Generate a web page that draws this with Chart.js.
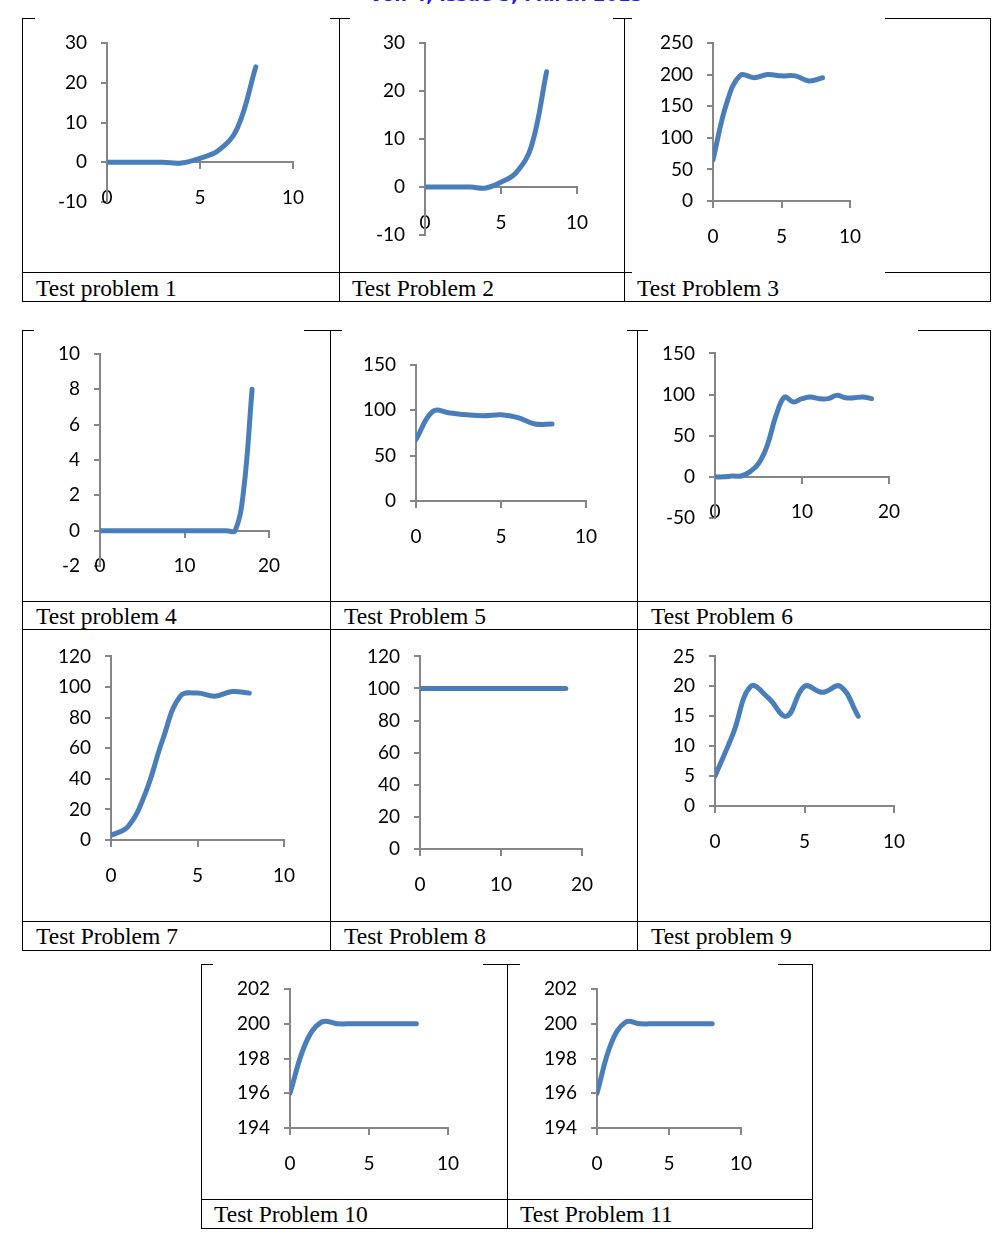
<!DOCTYPE html>
<html>
<head>
<meta charset="utf-8">
<script src="https://cdn.jsdelivr.net/npm/chart.js@4/dist/chart.umd.min.js"></script>
<style>
  body { margin: 0; background: #fff; }
  #page { position: relative; width: 1000px; height: 1246px; overflow: hidden; background: #fff; }
  .ln { position: absolute; background: #000; }
  .cap { position: absolute; font-family: "Liberation Serif", "Times New Roman", serif; font-size: 23.5px; line-height: 1; color: #000; white-space: nowrap; }
  canvas { position: absolute; background: #fff; }
  #hdr { position: absolute; top: -15px; left: 0; width: 1012px; text-align: center; font-family: "DejaVu Sans", sans-serif; font-weight: bold; font-size: 18px; line-height: 20px; color: #1a1aff; }
</style>
</head>
<body>
<div id="page">
  <div id="hdr">Vol. 4, Issue 3, March 2015</div>
</div>
<script>
// x positions of the samples
const xTo8 = [0, 1, 2, 3, 4, 5, 6, 7, 8];
const xTo18 = [0, 1, 2, 3, 4, 5, 6, 7, 8, 9, 10, 11, 12, 13, 14, 15, 16, 17, 18];

// values
const tp1 = [0, 0, 0, 0, -0.2, 1, 3, 8.5, 24];
const tp2 = [0, 0, 0, 0, -0.2, 1, 3, 8.5, 24];
const tp3 = [65, 155, 199, 195, 200, 198, 198, 190, 195];
const tp4 = [0, 0, 0, 0, 0, 0, 0, 0, 0, 0, 0, 0, 0, 0, 0, 0, 0, 2.3, 8];
const tp5 = [68, 99, 97, 95, 94, 95, 92, 85, 85];
const tp6 = [0, 0, 1, 1, 6, 16, 38, 74, 97, 91, 95, 97, 95, 95, 99, 96, 96, 97, 95];
const tp7 = [3, 9, 31, 66, 94, 96, 94, 97, 96];
const tp8 = [100, 100, 100, 100, 100, 100, 100, 100, 100, 100, 100, 100, 100, 100, 100, 100, 100, 100, 100];
const tp9 = [5, 12, 20, 18, 15, 20, 19, 20, 15];
const tp10 = [196, 198.9, 200.1, 200, 200, 200, 200, 200, 200];
const tp11 = [196, 198.9, 200.1, 200, 200, 200, 200, 200, 200];

// tick labels
const xTicks10 = [0, 5, 10];
const xTicks20 = [0, 10, 20];
const yTicksA = [-10, 0, 10, 20, 30];
const yTicksB = [0, 50, 100, 150, 200, 250];
const yTicksC = [-2, 0, 2, 4, 6, 8, 10];
const yTicksD = [0, 50, 100, 150];
const yTicksE = [-50, 0, 50, 100, 150];
const yTicksF = [0, 20, 40, 60, 80, 100, 120];
const yTicksG = [0, 5, 10, 15, 20, 25];
const yTicksH = [194, 196, 198, 200, 202];

const captions = ['Test problem 1', 'Test Problem 2', 'Test Problem 3', 'Test problem 4', 'Test Problem 5',
  'Test Problem 6', 'Test Problem 7', 'Test Problem 8', 'Test problem 9', 'Test Problem 10', 'Test Problem 11'];

const BLUE = '#4a7ebb';
const AXIS = '#868686';
const page = document.getElementById('page');

// table rules
function hline(y, x1, x2) {
    const d = document.createElement('div');
    d.className = 'ln';
    d.style.cssText = `left:${x1}px;top:${y}px;width:${x2 - x1 + 1}px;height:1px`;
    page.appendChild(d);
}
function vline(x, y1, y2) {
    const d = document.createElement('div');
    d.className = 'ln';
    d.style.cssText = `left:${x}px;top:${y1}px;width:1px;height:${y2 - y1 + 1}px`;
    page.appendChild(d);
}
[18, 272, 301].forEach(y => hline(y, 22, 990));
[22, 339, 624, 990].forEach(x => vline(x, 18, 301));
[330, 601, 629, 921, 950].forEach(y => hline(y, 22, 990));
[22, 330, 637, 990].forEach(x => vline(x, 330, 950));
[964, 1199, 1228].forEach(y => hline(y, 201, 812));
[201, 507, 812].forEach(x => vline(x, 964, 1228));

// caption cells: [left, baseline]
const capPos = [[36, 296], [352, 296], [637, 296], [36, 624], [344, 624], [651, 624],
    [36, 944], [344, 944], [651, 944], [214, 1222], [520, 1222]];
captions.forEach((t, i) => {
    const d = document.createElement('div');
    d.className = 'cap';
    d.textContent = t;
    d.style.left = capPos[i][0] + 'px';
    d.style.top = (capPos[i][1] - 19.5) + 'px';
    page.appendChild(d);
});

// box = canvas [left, top, w, h]; plot = [x of xmin, x of xmax, y of ymax, y of ymin]
const panels = [
    { box: [35, 16, 295, 254], plot: [107, 293, 43, 202], x: xTo8, y: tp1, xt: xTicks10, yt: yTicksA, cross: 0 },
    { box: [350, 16, 263, 254], plot: [425, 577, 43, 235], x: xTo8, y: tp2, xt: xTicks10, yt: yTicksA, cross: 0 },
    { box: [632, 16, 253, 259], plot: [713, 850, 43, 201], x: xTo8, y: tp3, xt: xTicks10, yt: yTicksB, cross: 0 },
    { box: [34, 328, 270, 271], plot: [100, 269, 354, 566], x: xTo18, y: tp4, xt: xTicks20, yt: yTicksC, cross: 0 },
    { box: [342, 328, 285, 271], plot: [416, 586, 365, 501], x: xTo8, y: tp5, xt: xTicks10, yt: yTicksD, cross: 0 },
    { box: [648, 328, 270, 271], plot: [715, 894, 343, 518], x: xTo18, y: tp6, xt: xTicks20, yt: yTicksE, cross: 0 },
    { box: [24, 631, 304, 288], plot: [111, 284, 654, 840], x: xTo8, y: tp7, xt: xTicks10, yt: yTicksF, cross: 0 },
    { box: [332, 631, 303, 288], plot: [420, 582, 654, 849], x: xTo18, y: tp8, xt: xTicks20, yt: yTicksF, cross: 0 },
    { box: [639, 631, 349, 288], plot: [715, 894, 654, 806], x: xTo8, y: tp9, xt: xTicks10, yt: yTicksG, cross: 0 },
    { box: [213, 962, 270, 235], plot: [290, 448, 989, 1128], x: xTo8, y: tp10, xt: xTicks10, yt: yTicksH, cross: 194 },
    { box: [520, 962, 258, 235], plot: [597, 741, 989, 1128], x: xTo8, y: tp11, xt: xTicks10, yt: yTicksH, cross: 194 }
];

const tickFont = { family: 'Lato, "Open Sans", sans-serif', size: 19 };

function makeChart(p) {
    const [L, T, W, H] = p.box;
    const [x0, x1, yTop, yBot] = p.plot;
    const c = document.createElement('canvas');
    c.width = W; c.height = H;
    c.style.left = L + 'px';
    c.style.top = T + 'px';
    page.appendChild(c);

    const axisGrid = { drawOnChartArea: false, color: AXIS, lineWidth: 2, tickLength: 6 };
    const axisBorder = { color: AXIS, width: 2 };
    const yWidth = x0 - L;

    new Chart(c, {
        type: 'line',
        data: {
            datasets: [{
                data: p.x.map((x, i) => ({ x: x, y: p.y[i] })),
                borderColor: BLUE,
                borderWidth: 5,
                borderCapStyle: 'round',
                borderJoinStyle: 'round',
                pointRadius: 0,
                tension: 0.4,
                fill: false
            }]
        },
        options: {
            responsive: false,
            animation: false,
            devicePixelRatio: 1,
            layout: { padding: { left: 0, right: L + W - x1, top: yTop - T, bottom: T + H - yBot } },
            plugins: { legend: { display: false }, tooltip: { enabled: false } },
            scales: {
                x: {
                    type: 'linear',
                    position: { y: p.cross },
                    min: p.xt[0], max: p.xt[p.xt.length - 1],
                    ticks: { stepSize: p.xt[1] - p.xt[0], color: '#000', font: tickFont, padding: 18, maxRotation: 0 },
                    grid: axisGrid,
                    border: axisBorder
                },
                y: {
                    type: 'linear',
                    position: 'left',
                    min: p.yt[0], max: p.yt[p.yt.length - 1],
                    ticks: { stepSize: p.yt[1] - p.yt[0], color: '#000', font: tickFont, padding: 14 },
                    grid: axisGrid,
                    border: axisBorder,
                    afterFit: s => { s.width = yWidth; }
                }
            }
        }
    });
}

panels.forEach(makeChart);
</script>
</body>
</html>
